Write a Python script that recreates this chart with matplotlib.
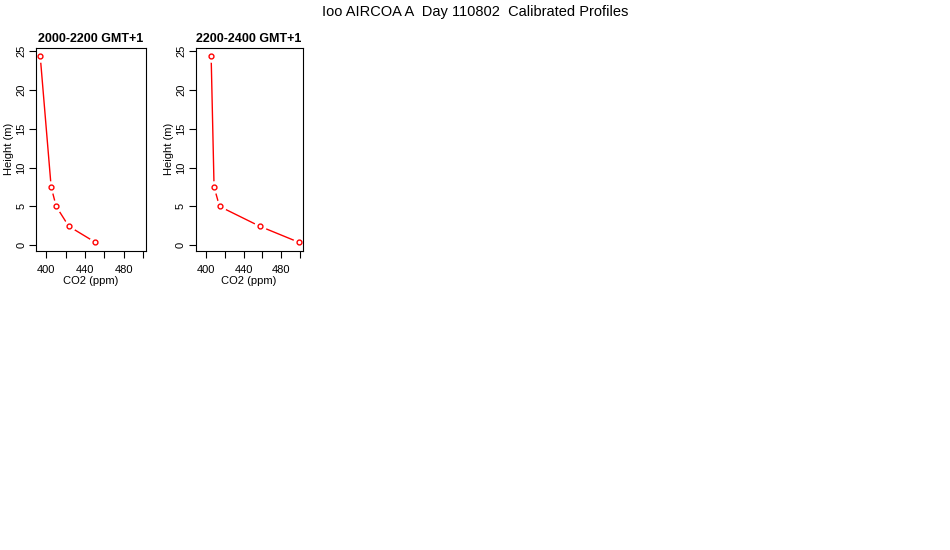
import numpy as np
import matplotlib
matplotlib.use("Agg")
import matplotlib.pyplot as plt

plt.rcParams['font.family'] = ['Liberation Sans', 'DejaVu Sans']

# heights of the inlets (m), top to bottom
height = [24.4, 7.5, 5.0, 2.45, 0.4]

titles = ["2000-2200 GMT+1", "2200-2400 GMT+1"]
co2_a = [393.8, 405.1, 410.3, 423.2, 450.3]
co2_b = [405.8, 408.9, 414.7, 457.1, 498.1]
profiles = [co2_a, co2_b]

xticks = [400, 420, 440, 460, 480, 500]
xlabels = ["400", "", "440", "", "480", ""]
yticks = [0, 5, 10, 15, 20, 25]

fig = plt.figure(figsize=(9.5, 5.5), dpi=100)
fig.text(0.5, 0.979, "Ioo AIRCOA A  Day 110802  Calibrated Profiles",
         ha="center", va="center", fontsize=10.5)

# axes boxes, figure fractions
boxes = [[0.0379, 0.5442, 0.1155, 0.3685],
         [0.2060, 0.5442, 0.1126, 0.3685]]

for box, title, co2 in zip(boxes, titles, profiles):
    ax = fig.add_axes(box)
    # R type="b": line with gaps around the points
    ax.plot(co2, height, color="red", lw=1, zorder=2)
    ax.plot(co2, height, "o", ms=8, color="white", mec="white", zorder=2.2)
    ax.plot(co2, height, "o", ms=3.5, mfc="none", mec="red", mew=1, zorder=3)
    ax.set_xlim(389.5, 502.5)
    ax.set_ylim(-0.7, 25.4)
    ax.set_xticks(xticks)
    ax.set_xticklabels(xlabels)
    ax.set_yticks(yticks)
    ax.set_yticklabels([str(v) for v in yticks], rotation=90, va="center")
    ax.tick_params(labelsize=8, length=5, width=0.8)
    ax.tick_params(axis="x", pad=5)
    ax.tick_params(axis="y", pad=2)
    ax.set_xlabel("CO2 (ppm)", fontsize=8, labelpad=1)
    ax.set_ylabel("Height (m)", fontsize=8)
    ax.yaxis.set_label_coords(-0.2, 0.5)
    ax.set_title(title, fontsize=9, fontweight="bold", pad=4)
    for s in ax.spines.values():
        s.set_linewidth(0.8)

fig.savefig("out.png", dpi=100)
